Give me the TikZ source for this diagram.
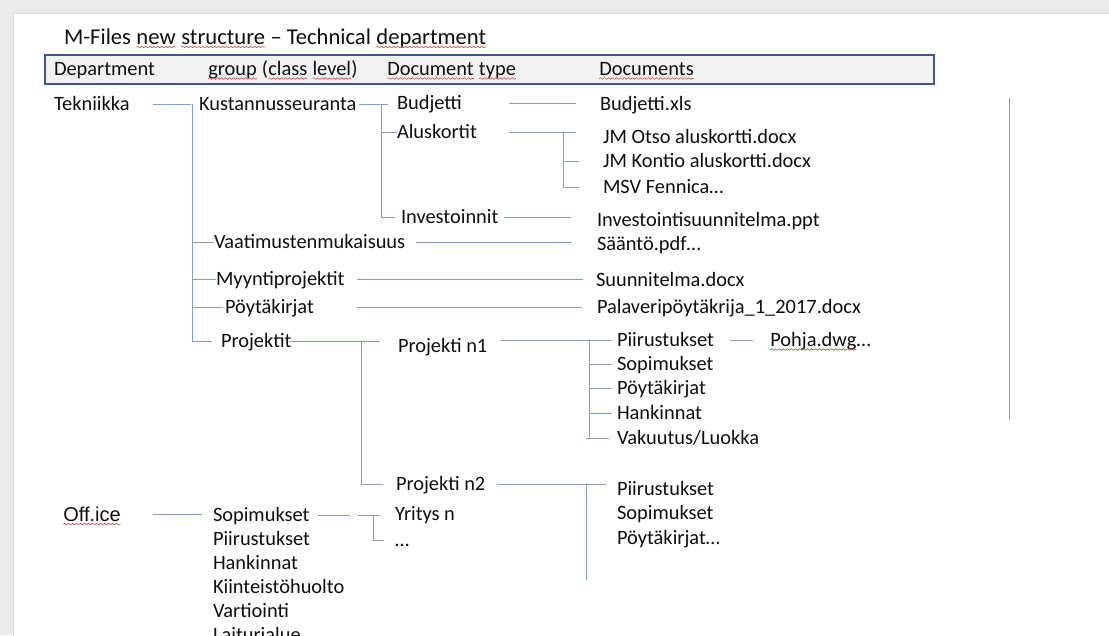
\documentclass[tikz,border=0pt]{standalone}
\usepackage{fontspec}
\setmainfont{Carlito}
\newfontfamily\arialfont{Liberation Sans}
\usetikzlibrary{decorations.pathmorphing}
\definecolor{wireblue}{RGB}{128,158,215}
\definecolor{frame}{RGB}{234,234,234}
\definecolor{headfill}{RGB}{242,242,242}
\definecolor{headline}{RGB}{58,88,142}
\definecolor{spellred}{RGB}{228,70,70}
\definecolor{ink}{RGB}{15,15,15}
% red wavy underline for flagged words
\newcommand\misspelt[1]{\tikz[baseline=(sw.base),x=1pt,y=1pt]{%
  \node[inner sep=0pt,outer sep=0pt,text height=,text depth=,anchor=base west] (sw) at (0,0) {#1};%
  \draw[spellred,line width=0.6pt,decorate,decoration={snake,segment length=4pt,amplitude=0.8pt}]
    ([yshift=-3pt]sw.base west) -- ([yshift=-3pt]sw.base east);}}
\begin{document}
\begin{tikzpicture}[x=1pt,y=-1pt,
  lbl/.style={anchor=base west,inner sep=0pt,outer sep=0pt,text height=13pt,text depth=0pt,
              font=\fontsize{20.4}{24}\selectfont,text=ink},
  ttl/.style={lbl,font=\fontsize{22.6}{27}\selectfont},
  offlbl/.style={lbl,font=\arialfont\fontsize{20}{24}\selectfont},
  hdrbox/.style={draw=headline,fill=headfill,line width=1.6pt,anchor=north west,inner sep=0pt},
  wire/.style={draw=wireblue,line width=1pt}]
\useasboundingbox (0,0) rectangle (1109,635);
\clip (0,0) rectangle (1109,635);
% page frame
\fill[frame] (0,0) rectangle (1109,635);
\filldraw[fill=white,draw=black!14,line width=0.8pt] (13,13) rectangle (1120,650);

% title and header bar
\node[ttl] (title) at (64,44) {M-Files \misspelt{new} \misspelt{structure} – Technical \misspelt{department}};
\node[hdrbox,minimum width=889pt,minimum height=29pt] (hdr) at (44,54) {};
\node[lbl] (hDep) at (54,75.5) {Department};
\node[lbl] (hGrp) at (208,75.5) {\misspelt{group} (\misspelt{class} \misspelt{level})};
\node[lbl] (hTyp) at (387,75.5) {\misspelt{Document} \misspelt{type}};
\node[lbl] (hDoc) at (599,75.5) {\misspelt{Documents}};

% department and groups
\node[lbl] (tek)  at (54,110.5)  {Tekniikka};
\node[lbl] (kus)  at (199,110.5) {Kustannusseuranta};
\node[lbl] (vaa)  at (214,248.5) {Vaatimustenmukaisuus};
\node[lbl] (myy)  at (216,285.5) {Myyntiprojektit};
\node[lbl] (poy)  at (225,313.5) {Pöytäkirjat};
\node[lbl] (proj) at (221,347.5) {Projektit};

% document types
\node[lbl] (bud)  at (397,109.5) {Budjetti};
\node[lbl] (alus) at (397,138.5) {Aluskortit};
\node[lbl] (inv)  at (401,223.5) {Investoinnit};
\node[lbl] (pn1)  at (398,352.5) {Projekti n1};
\node[lbl] (pn2)  at (396,490.5) {Projekti n2};

% documents
\node[lbl] (budx) at (600,110.5) {Budjetti.xls};
\node[lbl] (otso) at (603,143.5) {JM Otso aluskortti.docx};
\node[lbl] (kon)  at (603,167.5) {JM Kontio aluskortti.docx};
\node[lbl] (msv)  at (603,193.5) {MSV Fennica…};
\node[lbl] (invx) at (597,226.5) {Investointisuunnitelma.ppt};
\node[lbl] (saa)  at (597,250.5) {Sääntö.pdf…};
\node[lbl] (suu)  at (596,286.5) {Suunnitelma.docx};
\node[lbl] (pal)  at (597,313.5) {Palaveripöytäkrija\_1\_2017.docx};

% project n1 folders
\node[lbl] (pirA) at (617,346.5) {Piirustukset};
\node[lbl] (sopA) at (617,370.5) {Sopimukset};
\node[lbl] (poyA) at (617,394.5) {Pöytäkirjat};
\node[lbl] (hanA) at (617,419.5) {Hankinnat};
\node[lbl] (vak)  at (617,444.5) {Vakuutus/Luokka};
\node[lbl] (pohj) at (770,346.5) {\misspelt{Pohja.dwg}…};

% project n2 folders
\node[lbl] (pirB) at (617,495.5) {Piirustukset};
\node[lbl] (sopB) at (617,519.5) {Sopimukset};
\node[lbl] (poyB) at (617,544.5) {Pöytäkirjat…};

% office
\node[offlbl] (off) at (63,521) {\misspelt{Off.ice}};
\node[lbl] (sopO) at (213,521.5) {Sopimukset};
\node[lbl] (pirO) at (213,545.5) {Piirustukset};
\node[lbl] (hanO) at (213,569.5) {Hankinnat};
\node[lbl] (kii)  at (213,593.5) {Kiinteistöhuolto};
\node[lbl] (var)  at (213,617.5) {Vartiointi};
\node[lbl] (lai)  at (213,641.5) {Laiturialue};
\node[lbl] (yri)  at (395,520.5) {Yritys n};
\node[lbl] (dots) at (395,546.5) {…};

% side rule
\coordinate (rTop) at (1009,98);
\coordinate (rBot) at (1009,420);
\draw[wire] (rTop) -- (rBot);

% level 1: department to groups
\draw[wire] (tek.east -| 153,0) -- (tek.east -| 191,0);
\draw[wire] (tek.east -| 192,0) -- (proj.west -| 192,0);
\draw[wire] (vaa.west -| 192,0) -- (vaa.west);
\draw[wire] (myy.west -| 192,0) -- (myy.west);
\draw[wire] (poy.west -| 192,0) -- ([xshift=-2pt]poy.west);
\draw[wire] (proj.west -| 192,0) -- ([xshift=-9pt]proj.west);

% level 2: Kustannusseuranta
\draw[wire] (kus.east -| 359,0) -- (kus.east -| 388,0);
\draw[wire] (kus.east -| 381,0) -- (inv.west -| 381,0) -- ([xshift=-6pt]inv.west);
\draw[wire] (alus.west -| 381,0) -- (alus.west);

% level 3: documents
\draw[wire] (bud.east -| 509,0) -- (bud.east -| 576,0);
\draw[wire] (alus.east -| 509,0) -- (alus.east -| 576,0);
\draw[wire] (alus.east -| 563,0) -- (msv.west -| 563,0) -- (msv.west -| 579,0);
\draw[wire] (kon.west -| 563,0) -- (kon.west -| 579,0);
\draw[wire] (inv.east -| 504,0) -- (inv.east -| 571,0);
\draw[wire] (vaa.east -| 416,0) -- (vaa.east -| 572,0);
\draw[wire] (myy.east -| 357,0) -- (myy.east -| 583,0);
\draw[wire] (poy.east -| 357,0) -- (poy.east -| 582,0);

% projects
\draw[wire] (proj.east -| 289,0) -- (proj.east -| 380,0);
\draw[wire] (proj.east -| 361,0) -- (pn2.west -| 361,0) -- (pn2.west -| 383,0);
\draw[wire] (pirA.west -| 501,0) -- ([xshift=-5pt]pirA.west);
\draw[wire] (pirA.west -| 589,0) -- (vak.west -| 589,0);
\draw[wire] (sopA.west -| 589,0) -- ([xshift=-5pt]sopA.west);
\draw[wire] (poyA.west -| 589,0) -- ([xshift=-5pt]poyA.west);
\draw[wire] (hanA.west -| 589,0) -- ([xshift=-5pt]hanA.west);
\draw[wire] (vak.west -| 586,0) -- ([xshift=-8pt]vak.west);
\draw[wire] (pirA.east -| 730,0) -- (pirA.east -| 753,0);
\coordinate (n2end) at (586,580);
\draw[wire] (pn2.east -| 497,0) -- (pn2.east -| 606,0);
\draw[wire] (pn2.east -| 586,0) -- (n2end);

% office branch
\draw[wire] (off.east -| 153,0) -- (off.east -| 202,0);
\draw[wire] (sopO.east -| 318,0) -- (sopO.east -| 350,0);
\draw[wire] (sopO.east -| 358,0) -- (sopO.east -| 380,0);
\draw[wire] (sopO.east -| 373,0) -- (dots.west -| 373,0) -- (dots.west -| 384,0);
\end{tikzpicture}
\end{document}
